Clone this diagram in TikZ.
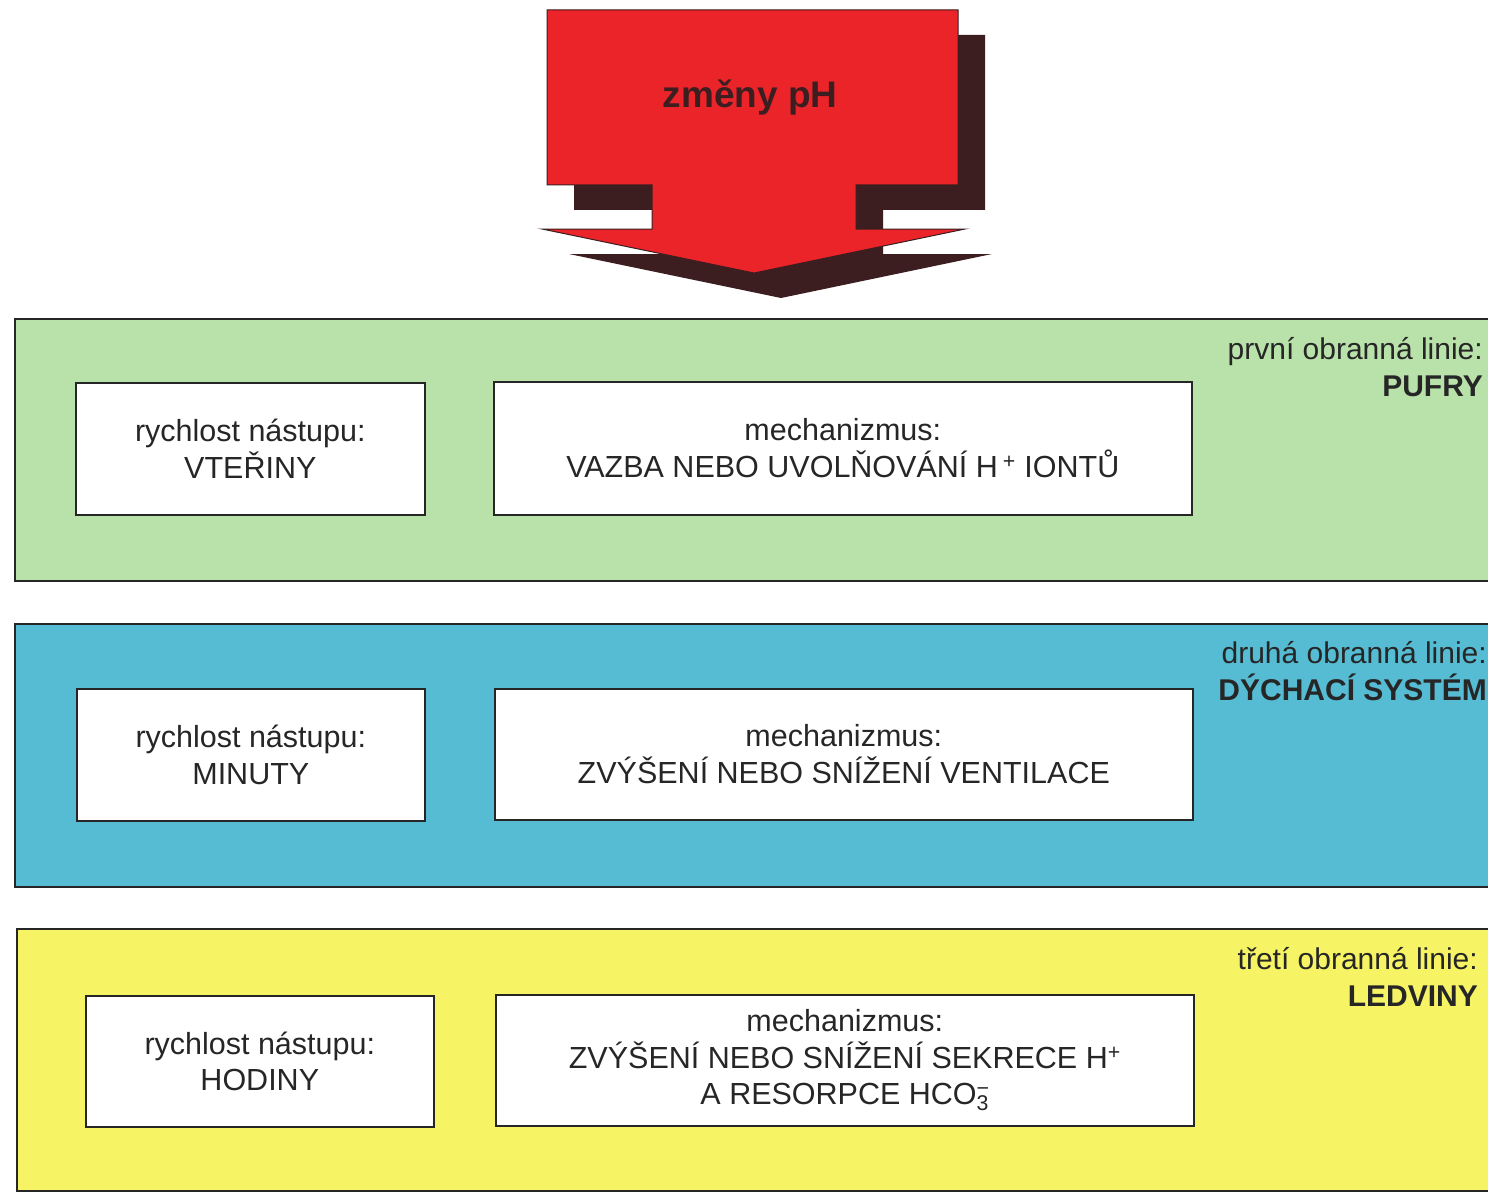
\documentclass[tikz,border=0pt]{standalone}
\usepackage{fontspec}
\setmainfont{Liberation Sans}
\begin{document}
\begin{tikzpicture}[x=1pt,y=-1pt,
  band/.style={draw=black!85, line width=1.6pt, anchor=north west, inner sep=0pt},
  ibox/.style={draw=black!85, line width=1.6pt, fill=white, anchor=north west, inner sep=0pt},
  itext/.style={align=center, font=\fontsize{30.5}{36.5}\selectfont, text=black!85},
  lbl/.style={align=right, anchor=north east, font=\fontsize{30}{37}\selectfont, text=black!85, inner sep=0pt}
]
\definecolor{bgreen}{RGB}{184,226,170}
\definecolor{bblue}{RGB}{86,188,212}
\definecolor{byellow}{RGB}{246,244,100}
\definecolor{ared}{RGB}{235,36,42}
\definecolor{ashadow}{RGB}{60,30,32}
\useasboundingbox (0,0) rectangle (1488,1193);
\fill[white] (0,0) rectangle (1488,1193);

% arrow shadow
\fill[ashadow, shift={(27,25)}] (547,10) -- (958,10) -- (958,185) -- (856,185) -- (856,229) -- (965,229) -- (754,273) -- (542,229) -- (652,229) -- (652,185) -- (547,185) -- cycle;
% arrow
\draw[fill=ared, draw=ashadow, line width=1pt] (547,10) -- (958,10) -- (958,185) -- (856,185) -- (856,229) -- (965,229) -- (754,273) -- (542,229) -- (652,229) -- (652,185) -- (547,185) -- cycle;
\node[font=\fontsize{37}{40}\selectfont\bfseries, text=ashadow] (title) at (750,98) {změny pH};

% bands
\node[band, fill=bgreen, minimum width=1490pt, minimum height=262pt] (b1) at (14,318) {};
\node[band, fill=bblue, minimum width=1490pt, minimum height=263pt] (b2) at (14,623) {};
\node[band, fill=byellow, minimum width=1490pt, minimum height=262pt] (b3) at (16,928) {};

% band 1
\node[ibox, minimum width=349pt, minimum height=132pt] (l1) at (75,382) {};
\node[itext] (l1t) at (l1.center) {rychlost nástupu:\\VTEŘINY};
\node[ibox, minimum width=698pt, minimum height=133pt] (r1) at (493,381) {};
\node[itext] (r1t) at (r1.center) {mechanizmus:\\VAZBA NEBO UVOLŇOVÁNÍ H\,\textsuperscript{+} IONTŮ};
\node[lbl] (n1) at (1483,337) {první obranná linie:\\\textbf{PUFRY}};

% band 2
\node[ibox, minimum width=348pt, minimum height=132pt] (l2) at (76,688) {};
\node[itext] (l2t) at (l2.center) {rychlost nástupu:\\MINUTY};
\node[ibox, minimum width=698pt, minimum height=131pt] (r2) at (494,688) {};
\node[itext] (r2t) at (r2.center) {mechanizmus:\\ZVÝŠENÍ NEBO SNÍŽENÍ VENTILACE};
\node[lbl] (n2) at (1487,641) {druhá obranná linie:\\\textbf{DÝCHACÍ SYSTÉM}};

% band 3
\node[ibox, minimum width=348pt, minimum height=131pt] (l3) at (85,995) {};
\node[itext] (l3t) at (l3.center) {rychlost nástupu:\\HODINY};
\node[ibox, minimum width=698pt, minimum height=131pt] (r3) at (495,994) {};
\node[itext] (r3t) at (r3.center) {mechanizmus:\\ZVÝŠENÍ NEBO SNÍŽENÍ SEKRECE H\textsuperscript{+}\\A RESORPCE HCO\rlap{\textsuperscript{−}}\textsubscript{3}};
\node[lbl] (n3) at (1478,947) {třetí obranná linie:\\\textbf{LEDVINY}};
\end{tikzpicture}
\end{document}
